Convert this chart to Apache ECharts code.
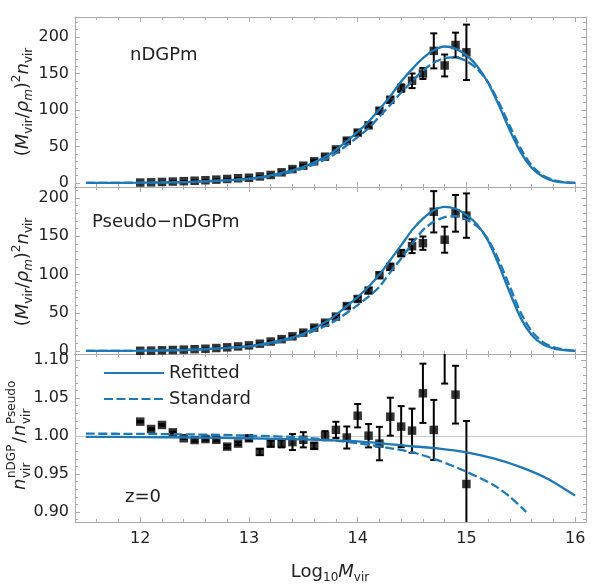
<!DOCTYPE html>
<html><head><meta charset="utf-8">
<script src="https://cdn.jsdelivr.net/npm/echarts@6/dist/echarts.min.js"></script>
<style>html,body{margin:0;padding:0;background:#fff}#c{width:600px;height:586px}</style>
</head><body><div id="c"></div>
<script>
// ---------------- data ----------------
const massX = [12.0,12.1,12.2,12.3,12.4,12.5,12.6,12.7,12.8,12.9,13.0,13.1,13.2,13.3,13.4,13.5,13.6,13.7,13.8,13.9,14.0,14.1,14.2,14.3,14.4,14.5,14.6,14.7,14.8,14.9,15.0];
const nDGP = [0.6,0.9,1.4,1.9,2.5,3.1,3.8,4.6,5.5,6.5,7.2,9.0,11.0,14.6,19.0,23.7,29.7,36.0,46.0,58.0,69.0,79.0,99.0,114.0,130.0,140.0,150.0,181.0,161.0,189.0,179.0];
const nDGPErr = [0.1,0.1,0.1,0.1,0.2,0.2,0.2,0.3,0.3,0.4,0.5,0.6,0.7,0.8,1.0,1.2,1.4,1.6,2.0,2.4,2.8,3.2,3.6,4.0,5.0,10.0,7.5,24.0,15.0,17.0,38.0];
const pseudo = [0.3,0.5,0.9,1.3,1.8,2.4,3.0,3.9,4.8,6.0,7.4,9.6,12.4,15.5,19.2,24.0,30.5,37.0,45.0,58.8,68.0,79.0,99.0,110.0,128.0,137.0,141.0,182.0,145.5,180.0,177.0];
const pseudoErr = [0.1,0.1,0.1,0.1,0.2,0.2,0.2,0.3,0.3,0.4,0.5,0.6,0.7,0.8,1.0,1.2,1.4,1.6,2.0,2.4,2.8,3.2,3.6,4.0,4.0,9.0,8.7,27.0,17.0,24.0,29.0];
const ratio = [1.0189,1.0092,1.0145,1.0048,0.997,0.9947,0.996,0.995,0.986,0.990,0.997,0.979,0.990,0.990,0.992,0.995,0.987,1.0004,1.008,0.998,1.0267,1.0004,0.990,1.0254,1.0123,1.007,1.0562,1.008,1.12,1.0544,0.9368];
const ratioErr = [0.001,0.001,0.001,0.001,0.001,0.002,0.002,0.002,0.002,0.002,0.003,0.004,0.004,0.005,0.0105,0.010,0.004,0.006,0.0107,0.0145,0.0154,0.0154,0.022,0.025,0.027,0.029,0.039,0.0395,0.051,0.038,0.083];

const curveX = [11.5,12.0,12.5,13.0,13.25,13.5,13.75,14.0,14.1,14.2,14.3,14.4,14.5,14.6,14.7,14.8,14.9,15.0,15.1,15.2,15.3,15.4,15.5,15.6,15.7,15.8,15.9,16.0];
const nDGPRefitted = [0.1,0.4,1.8,6.0,12.0,22.0,40.0,70.0,84.0,101.0,119.0,139.0,156.0,171.0,182.0,187.0,184.0,175.0,160.0,137.0,106.0,72.0,42.0,21.0,9.0,3.0,0.8,0.1];
const nDGPStandard = [0.1,0.4,1.6,5.5,10.5,20.0,36.0,63.0,75.0,91.0,107.0,124.0,139.0,154.0,165.0,171.0,172.0,167.0,156.0,138.0,110.0,78.0,47.0,24.0,10.5,3.8,1.0,0.1];
const pseudoRefitted = [0.1,0.4,2.0,6.5,12.5,22.6,42.0,70.6,84.0,100.0,119.0,138.0,158.0,173.0,184.0,188.5,186.0,178.0,165.0,144.0,112.0,76.0,43.0,21.0,9.0,3.5,1.2,0.2];
const pseudoStandard = [0.1,0.4,1.8,6.0,11.0,21.0,36.0,60.0,71.0,84.0,103.0,121.0,140.0,158.0,169.0,175.0,176.5,172.0,163.0,146.0,118.0,84.0,50.0,26.0,12.0,5.0,1.8,0.3];
const ratioRefitX = [11.5,12.0,12.5,13.0,13.5,14.0,14.5,14.75,15.0,15.25,15.5,15.75,16.0];
const ratioRefitted = [0.9988,0.9986,0.9980,0.9970,0.9955,0.9930,0.9865,0.9835,0.9785,0.9705,0.9590,0.9435,0.9215];
const ratioStdX = [11.5,12.0,12.5,13.0,13.5,14.0,14.25,14.5,14.75,15.0,15.25,15.4,15.55];
const ratioStandard = [1.0030,1.0028,1.0020,1.0005,0.9980,0.9905,0.9850,0.9786,0.9675,0.9530,0.9355,0.9200,0.9000];

const xTicks = [12,13,14,15,16];
const xMinor = [11.6,11.8,12.2,12.4,12.6,12.8,13.2,13.4,13.6,13.8,14.2,14.4,14.6,14.8,15.2,15.4,15.6,15.8];
const yTicksMain = [0,50,100,150,200];
const yMinorMain = [10,20,30,40,60,70,80,90,110,120,130,140,160,170,180,190,210,220];
const yTicksRatio = [0.90,0.95,1.00,1.05,1.10];
const yMinorRatio = [0.89,0.91,0.92,0.93,0.94,0.96,0.97,0.98,0.99,1.01,1.02,1.03,1.04,1.06,1.07,1.08,1.09];

// ---------------- layout / style ----------------
const F = 'DejaVu Sans';
const BLUE = '#1f77b4';
const FRAME = '#aaaaaa';
const TXT = '#222222';
const X_MIN = 11.4, X_MAX = 16.1;
const grids = [
  {left:75, top:17, width:511, height:170},
  {left:75, top:187, width:511, height:167},
  {left:75, top:354, width:511, height:168}
];
const yRanges = [[-5.5,227.4],[-3.9,214.4],[0.8868,1.1079]];
const yMajors = [yTicksMain, yTicksMain, yTicksRatio];
const yMinors = [yMinorMain, yMinorMain, yMinorRatio];

const xAxes = [], yAxes = [];
for (let g = 0; g < 3; g++) {
  for (const pos of ['bottom','top']) {
    for (const major of [true,false]) {
      xAxes.push({
        gridIndex:g, type:'value', min:X_MIN, max:X_MAX, position:pos,
        axisLine:{show:major, onZero:false, lineStyle:{color:FRAME, width:1}},
        axisTick:{show:true, inside:true, length: major?5:3, customValues: major?xTicks:xMinor, lineStyle:{color:FRAME}},
        axisLabel:{show: major && pos==='bottom' && g===2, customValues:xTicks, margin:9,
          fontSize:16, fontFamily:F, color:TXT, formatter:(v)=>String(v)},
        splitLine:{show:false}
      });
    }
  }
  const [ymin,ymax] = yRanges[g];
  for (const pos of ['left','right']) {
    for (const major of [true,false]) {
      yAxes.push({
        gridIndex:g, type:'value', min:ymin, max:ymax, position:pos,
        axisLine:{show:major, onZero:false, lineStyle:{color:FRAME, width:1}},
        axisTick:{show:true, inside:true, length: major?5:3,
          customValues: (major?yMajors[g]:yMinors[g]).filter(v=>v>=ymin && v<=ymax), lineStyle:{color:FRAME}},
        axisLabel:{show: major && pos==='left', customValues:yMajors[g], margin:6,
          fontSize:16, fontFamily:F, color:TXT,
          formatter:(v)=> g===2 ? v.toFixed(2) : String(Math.round(v))},
        splitLine:{show:false}
      });
    }
  }
}

function zip(xs, ys){ return xs.map((x,i)=>[x, ys[i]]); }
function zip3(xs, ys, es){ return xs.map((x,i)=>[x, ys[i], es[i]]); }

function errRender(params, api) {
  const x = api.value(0), y = api.value(1), e = api.value(2);
  const t = api.coord([x, y + e]);
  const b = api.coord([x, y - e]);
  const cw = 3.5;
  const st = {stroke:'#000', lineWidth:2};
  return {type:'group', children:[
    {type:'line', shape:{x1:t[0], y1:t[1], x2:b[0], y2:b[1]}, style:st},
    {type:'line', shape:{x1:t[0]-cw, y1:t[1], x2:t[0]+cw, y2:t[1]}, style:st},
    {type:'line', shape:{x1:b[0]-cw, y1:b[1], x2:b[0]+cw, y2:b[1]}, style:st}
  ]};
}

const panels = [
  {pts:nDGP, err:nDGPErr, refX:curveX, ref:nDGPRefitted, stdX:curveX, std:nDGPStandard},
  {pts:pseudo, err:pseudoErr, refX:curveX, ref:pseudoRefitted, stdX:curveX, std:pseudoStandard},
  {pts:ratio, err:ratioErr, refX:ratioRefitX, ref:ratioRefitted, stdX:ratioStdX, std:ratioStandard}
];

const series = [];
panels.forEach((p, g) => {
  const xi = 4*g, yi = 4*g;
  series.push({
    type:'custom', xAxisIndex:xi, yAxisIndex:yi, clip:true, z:2, silent:true,
    renderItem: errRender, encode:{x:0, y:1}, data: zip3(massX, p.pts, p.err)
  });
  series.push({
    type:'scatter', xAxisIndex:xi, yAxisIndex:yi, clip:true, z:3, silent:true,
    symbol:'rect', symbolSize:8.5, itemStyle:{color:'#000'}, data: zip(massX, p.pts)
  });
  const lineCommon = {type:'line', xAxisIndex:xi, yAxisIndex:yi, symbol:'none', showSymbol:false,
    smooth:0.25, clip:true, z:4, silent:true, color:BLUE};
  const refS = Object.assign({}, lineCommon, {name:'Refitted', data: zip(p.refX, p.ref),
    lineStyle:{color:BLUE, width:2.3, type:'solid'}});
  const stdS = Object.assign({}, lineCommon, {name:'Standard', data: zip(p.stdX, p.std),
    lineStyle:{color:BLUE, width:2.3, type:[9,3.5]}});
  if (g === 2) {
    refS.markLine = {silent:true, symbol:'none', label:{show:false},
      lineStyle:{color:'#cccccc', width:1, type:'solid'}, data:[{yAxis:1.0}], z:1};
  }
  series.push(refS, stdS);
});

const subR = {
  n:{fontSize:18, fontFamily:F, color:TXT, lineHeight:24, verticalAlign:'middle'},
  i:{fontSize:18, fontFamily:F, color:TXT, fontStyle:'italic', lineHeight:24, verticalAlign:'middle'},
  s:{fontSize:12, fontFamily:F, color:TXT, verticalAlign:'bottom'},
  si:{fontSize:12, fontFamily:F, color:TXT, fontStyle:'italic', verticalAlign:'bottom'},
  p:{fontSize:12, fontFamily:F, color:TXT, verticalAlign:'top'}
};
const yMainLabel = '{n|(}{i|M}{s|vir}{n|/}{i|ρ}{si|m}{n|)}{p|2}{i|n}{s|vir}';

function stackedLabel() {
  const t = (x, y, text, size, italic) => ({type:'text', x:x, y:y,
    style:{text:text, fontSize:size, fontFamily:F, fontStyle: italic?'italic':'normal', fill:TXT,
      align:'left', verticalAlign:'middle'}});
  return [
    t(-54, 0, 'n', 18, true),
    t(-42, -8, 'nDGP', 12, false),
    t(-42, 7, 'vir', 12, false),
    t(-7, 0, '/', 18, false),
    t(0, 0, 'n', 18, true),
    t(12, -8, 'Pseudo', 12, false),
    t(12, 7, 'vir', 12, false)
  ];
}

const graphic = [
  {type:'text', x:23, y:102, rotation:Math.PI/2,
    style:{text:yMainLabel, rich:subR, align:'center', verticalAlign:'middle', fill:TXT}},
  {type:'text', x:23, y:272, rotation:Math.PI/2,
    style:{text:yMainLabel, rich:subR, align:'center', verticalAlign:'middle', fill:TXT}},
  {type:'group', x:20, y:436, rotation:Math.PI/2, children: stackedLabel()},
  {type:'text', x:330, y:572,
    style:{text:'{n|Log}{s|10}{i|M}{s|vir}', rich:subR, align:'center', verticalAlign:'middle', fill:TXT}},
  {type:'text', x:130, y:55, style:{text:'nDGPm', fontSize:18, fontFamily:F, fill:TXT, align:'left', verticalAlign:'middle'}},
  {type:'text', x:92, y:222, style:{text:'Pseudo\u2212nDGPm', fontSize:18, fontFamily:F, fill:TXT, align:'left', verticalAlign:'middle'}},
  {type:'text', x:125, y:497, style:{text:'z=0', fontSize:18, fontFamily:F, fill:TXT, align:'left', verticalAlign:'middle'}}
];

const chart = echarts.init(document.getElementById('c'), null, {renderer:'canvas', width:600, height:586});
chart.setOption({
  animation:false,
  backgroundColor:'#fff',
  grid: grids,
  xAxis: xAxes,
  yAxis: yAxes,
  legend:{data:['Refitted','Standard'], orient:'vertical', left:103, top:364, padding:0,
    itemWidth:60, itemHeight:14, itemGap:8, selectedMode:false,
    itemStyle:{opacity:0},
    textStyle:{fontSize:18, fontFamily:F, color:TXT}},
  graphic: graphic,
  series: series
});
</script>
</body></html>
